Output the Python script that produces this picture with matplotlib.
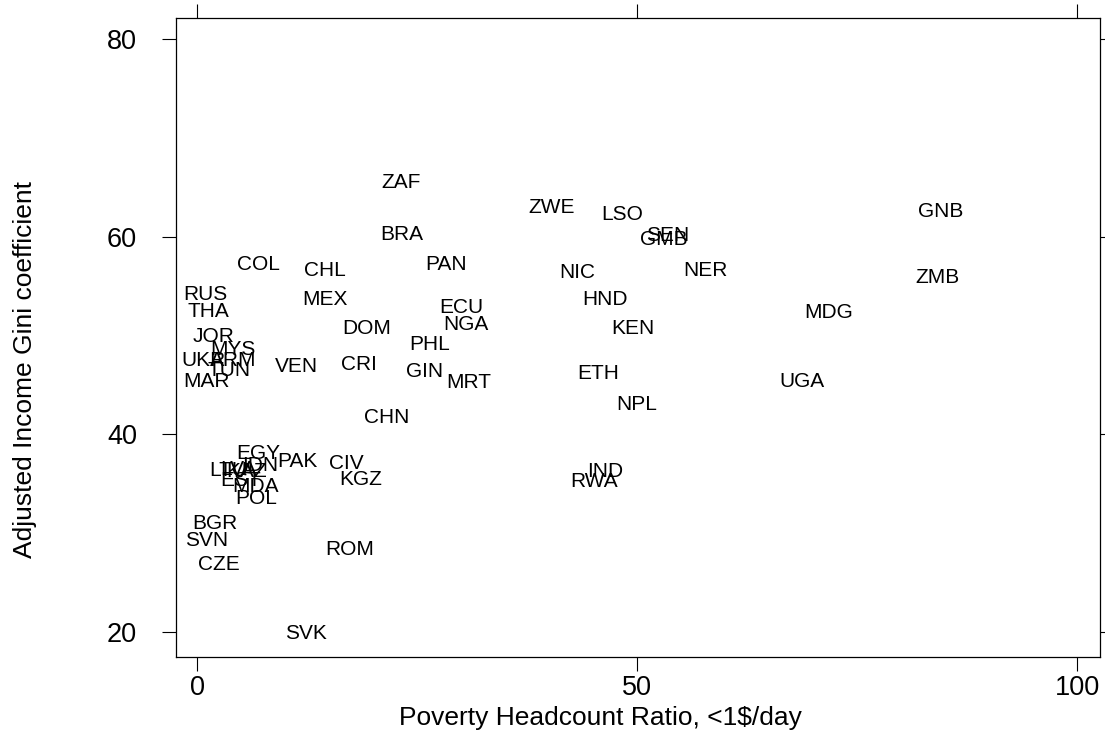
import matplotlib.pyplot as plt

plt.rcParams['font.family'] = ['Liberation Sans', 'DejaVu Sans']

# country codes with poverty ratio (x) and adjusted gini (y)
countries = ["ZAF", "ZWE", "LSO", "SEN", "GMB", "GNB", "BRA", "COL", "CHL", "PAN",
             "NIC", "NER", "ZMB", "RUS", "THA", "MEX", "ECU", "HND", "MDG", "NGA",
             "DOM", "KEN", "JOR", "MYS", "PHL", "UKR", "ARM", "TUN", "VEN", "CRI",
             "GIN", "MRT", "ETH", "UGA", "MAR", "NPL", "CHN", "EGY", "PAK", "IDN",
             "LTU", "LVA", "KAZ", "EST", "CIV", "KGZ", "IND", "RWA", "MDA", "POL",
             "BGR", "SVN", "CZE", "ROM", "SVK"]
poverty = [23.2, 40.3, 48.3, 53.5, 53.0, 84.5, 23.3, 7.0, 14.5, 28.3,
           43.2, 57.8, 84.1, 1.0, 1.25, 14.5, 30.0, 46.4, 71.8, 30.6,
           19.3, 49.5, 1.9, 4.1, 26.4, 0.7, 4.1, 3.6, 11.25, 18.4,
           25.8, 30.9, 45.6, 68.75, 1.1, 49.9, 21.5, 6.9, 11.4, 7.2,
           3.5, 4.7, 5.6, 5.0, 17.0, 18.6, 46.4, 45.1, 6.6, 6.7,
           2.0, 1.1, 2.5, 17.4, 12.4]
gini = [65.7, 63.1, 62.4, 60.3, 59.9, 62.7, 60.4, 57.4, 56.8, 57.4,
        56.6, 56.8, 56.1, 54.3, 52.6, 53.8, 53.0, 53.8, 52.5, 51.3,
        50.9, 50.9, 50.1, 48.8, 49.3, 47.7, 47.7, 46.7, 47.1, 47.3,
        46.6, 45.4, 46.4, 45.5, 45.5, 43.2, 41.9, 38.3, 37.5, 37.0,
        36.5, 36.6, 36.4, 35.5, 37.2, 35.6, 36.4, 35.4, 34.9, 33.7,
        31.2, 29.5, 27.0, 28.5, 20.1]

xticks = [0, 50, 100]
yticks = [20, 40, 60, 80]

fig = plt.figure(figsize=(11.05, 7.33), dpi=100)
ax = fig.add_axes([176/1105, 1 - 657/733, 924/1105, 639/733])

for name, x, y in zip(countries, poverty, gini):
    ax.text(x, y, name, fontsize=15, ha='center', va='center_baseline')

ax.set_xlim(-2.39, 102.6)
ax.set_ylim(17.47, 82.12)
ax.set_xticks(xticks)
ax.set_yticks(yticks)

ax.tick_params(axis='both', direction='out', length=10, width=0.8, labelsize=19.5)
ax.tick_params(axis='x', top=True, pad=3)
ax.tick_params(axis='y', right=True, pad=18)
for s in ax.spines.values():
    s.set_linewidth(0.9)

fig.text(600/1105, 1 - 718/733, "Poverty Headcount Ratio, <1$/day",
         fontsize=19, ha='center', va='center')
fig.text(25/1105, 1 - 369/733, "Adjusted Income Gini coefficient",
         fontsize=19, ha='center', va='center', rotation=90)

fig.savefig("out.png", dpi=100)
